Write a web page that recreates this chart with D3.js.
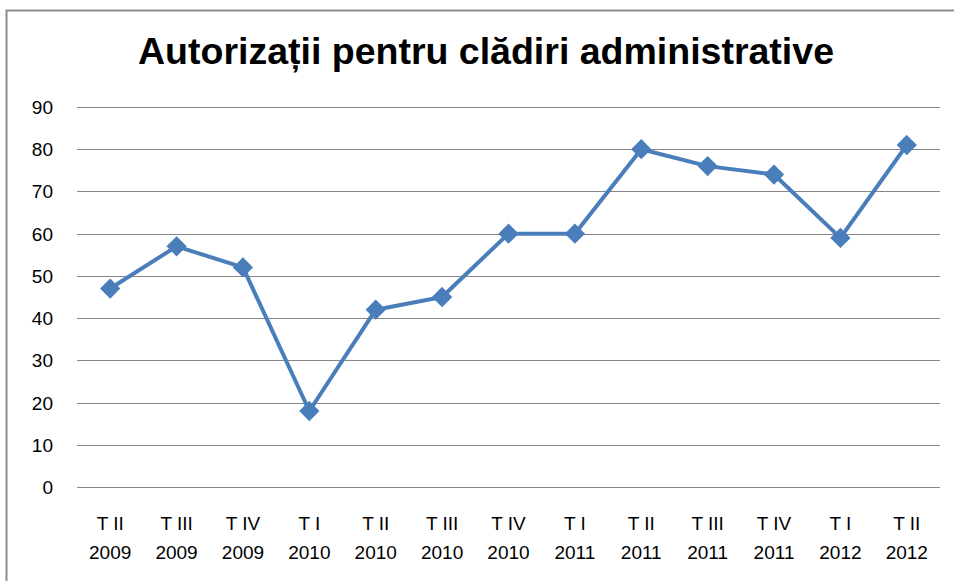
<!DOCTYPE html>
<html>
<head>
<meta charset="utf-8">
<script src="https://cdn.jsdelivr.net/npm/d3@7"></script>
<style>
  body { margin: 0; background: #fff; }
  text { font-family: "Liberation Sans", Arial, sans-serif; }
</style>
</head>
<body>
<svg id="chart" width="954" height="581"></svg>
<script>
// quarter labels (two lines each) and values
const quarters = ["T II", "T III", "T IV", "T I", "T II", "T III", "T IV", "T I", "T II", "T III", "T IV", "T I", "T II"];
const years = ["2009", "2009", "2009", "2010", "2010", "2010", "2010", "2011", "2011", "2011", "2011", "2012", "2012"];
const values = [47, 57, 52, 18, 42, 45, 60, 60, 80, 76, 74, 59, 81];
const yTicks = [0, 10, 20, 30, 40, 50, 60, 70, 80, 90];

const svg = d3.select("#chart");
const margin = { left: 77, right: 940, top: 107, bottom: 487 };

// outer chart border
svg.append("rect")
    .attr("x", 6.5).attr("y", 10.5)
    .attr("width", 960).attr("height", 600)
    .attr("fill", "#fff")
    .attr("stroke", "#8c8c8c")
    .attr("stroke-width", 2);

svg.append("text")
    .attr("x", 486).attr("y", 64)
    .attr("text-anchor", "middle")
    .attr("font-size", 37.5)
    .attr("font-weight", "bold")
    .attr("fill", "#000")
    .text("Autorizații pentru clădiri administrative");

const x = d3.scaleBand()
    .domain(d3.range(values.length))
    .range([margin.left, margin.right]);

const y = d3.scaleLinear()
    .domain([0, 90])
    .range([margin.bottom, margin.top]);

// gridlines
svg.append("g")
    .selectAll("line")
    .data(yTicks)
    .enter().append("line")
    .attr("x1", margin.left).attr("x2", margin.right)
    .attr("y1", d => Math.round(y(d)) + 0.5)
    .attr("y2", d => Math.round(y(d)) + 0.5)
    .attr("stroke", "#868686")
    .attr("stroke-width", 1.2);

// y labels
svg.append("g")
    .selectAll("text")
    .data(yTicks)
    .enter().append("text")
    .attr("x", 53)
    .attr("y", d => y(d) + 7)
    .attr("text-anchor", "end")
    .attr("font-size", 19)
    .attr("fill", "#000")
    .text(d => d);

// x labels
const xl = svg.append("g")
    .selectAll("text")
    .data(values)
    .enter().append("text")
    .attr("text-anchor", "middle")
    .attr("font-size", 19)
    .attr("fill", "#000");
xl.append("tspan")
    .attr("x", (d, i) => x(i) + x.bandwidth() / 2)
    .attr("y", 530)
    .text((d, i) => quarters[i]);
xl.append("tspan")
    .attr("x", (d, i) => x(i) + x.bandwidth() / 2)
    .attr("y", 559)
    .text((d, i) => years[i]);

const line = d3.line()
    .x((d, i) => x(i) + x.bandwidth() / 2)
    .y(d => y(d));

svg.append("path")
    .datum(values)
    .attr("d", line)
    .attr("fill", "none")
    .attr("stroke", "#4a7ebb")
    .attr("stroke-width", 4)
    .attr("stroke-linejoin", "round");

svg.append("g")
    .selectAll("path")
    .data(values)
    .enter().append("path")
    .attr("d", d3.symbol().type(d3.symbolDiamond2).size(210))
    .attr("transform", (d, i) => `translate(${x(i) + x.bandwidth() / 2},${y(d)})`)
    .attr("fill", "#4a7ebb")
    .attr("stroke", "#4a7ebb")
    .attr("stroke-width", 1.5);
</script>
</body>
</html>
